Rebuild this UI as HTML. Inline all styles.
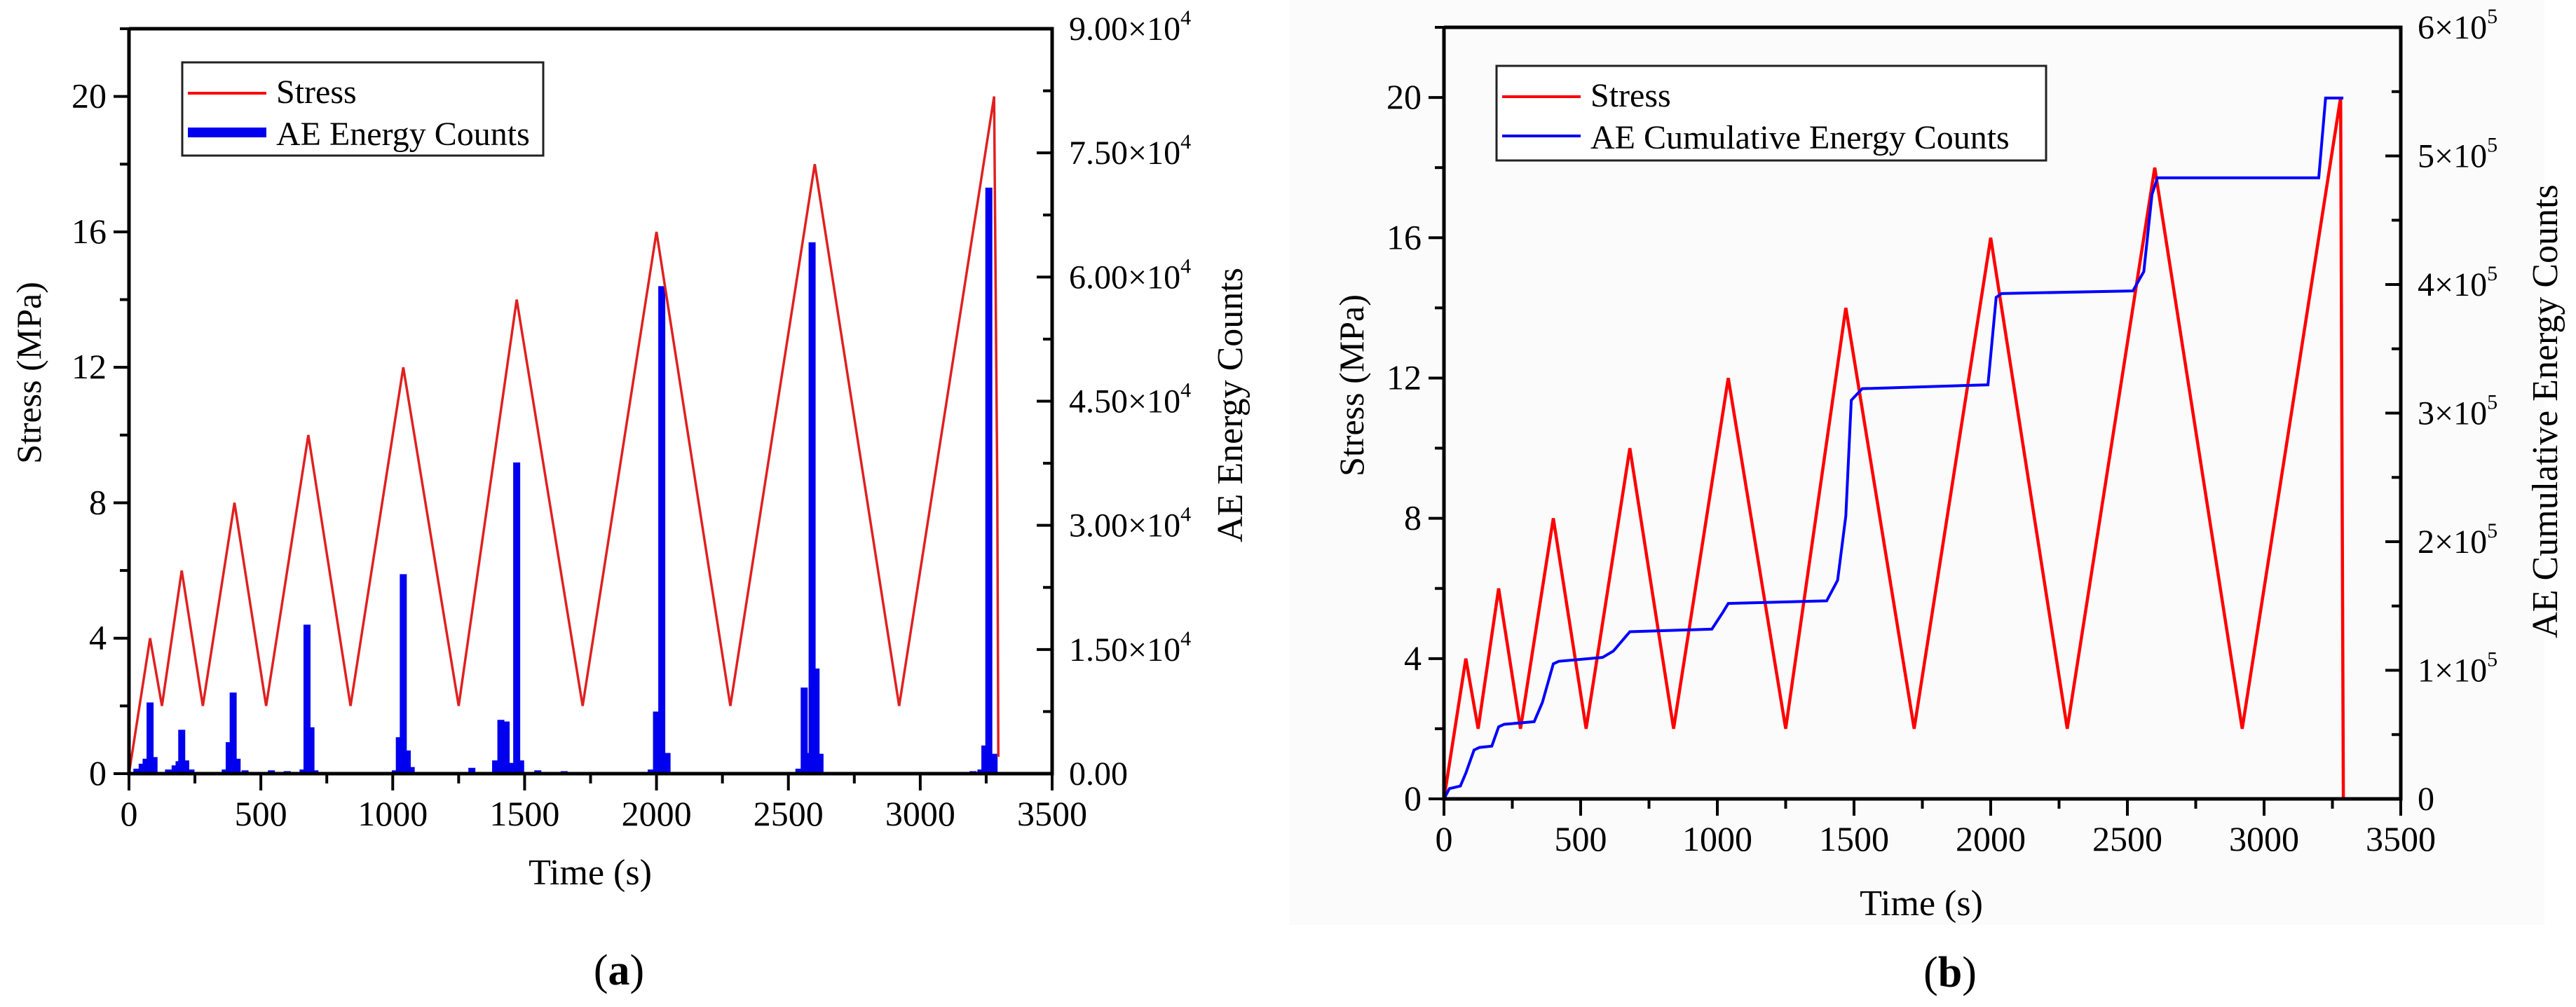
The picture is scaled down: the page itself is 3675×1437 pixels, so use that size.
<!DOCTYPE html>
<html><head><meta charset="utf-8"><style>
html,body{margin:0;padding:0;background:#fff}
svg, svg text, svg tspan{font-family:"Liberation Serif","Times New Roman",serif !important}
</style></head><body>
<svg id="fig" width="3675" height="1432" viewBox="0 0 3675 1432" xmlns="http://www.w3.org/2000/svg" font-family="Liberation Serif, serif">
<rect x="0" y="0" width="3675" height="1432" fill="#fff"/>
<rect x="1840" y="0" width="1790" height="1320" fill="#fbfbfb"/>
<g id="pa"></g>
<g id="pb"></g>
<text x="883" y="1405" font-size="62" font-family="Liberation Serif, serif" text-anchor="middle">(<tspan font-weight="bold">a</tspan>)</text>
<text x="2782" y="1408" font-size="62" font-family="Liberation Serif, serif" text-anchor="middle">(<tspan font-weight="bold">b</tspan>)</text>
</svg>
<script>
// ---- data ----
const stressTimes = [0, 80, 125, 200, 280, 400, 520, 680, 840, 1040, 1250, 1470, 1720, 2000, 2280, 2600, 2920, 3280];
const stressValues = [0, 4, 2, 6, 2, 8, 2, 10, 2, 12, 2, 14, 2, 16, 2, 18, 2, 20];
const stressEndA = [[3292, 8.5], [3296, 0.5]];
const stressEndB = [[3290, 0], [3292, 0]];
const aeTimes = [30, 50, 65, 80, 95, 150, 175, 190, 200, 215, 235, 365, 380, 395, 410, 440, 540, 600, 660, 675, 690, 705, 1010, 1025, 1040, 1055, 1070, 1300, 1390, 1410, 1430, 1450, 1470, 1485, 1550, 1650, 1980, 2000, 2020, 2040, 2540, 2560, 2575, 2590, 2605, 2620, 3200, 3230, 3245, 3260, 3280];
const aeValues = [600, 1200, 1800, 8600, 2000, 500, 1000, 1500, 5300, 1600, 500, 500, 3800, 9800, 1800, 400, 400, 300, 500, 18000, 5600, 400, 400, 4400, 24100, 2800, 800, 700, 1600, 6500, 6300, 1300, 37600, 1600, 400, 300, 500, 7500, 58900, 2500, 600, 10400, 2500, 64200, 12700, 2400, 300, 500, 3400, 70800, 2400];
const cumTimes = [0, 20, 60, 80, 110, 130, 175, 200, 220, 330, 360, 400, 420, 580, 620, 680, 980, 1020, 1040, 1400, 1440, 1470, 1490, 1530, 1990, 2020, 2040, 2520, 2560, 2590, 2610, 3200, 3225, 3290];
const cumValues = [0, 0.08, 0.1, 0.2, 0.38, 0.4, 0.41, 0.56, 0.58, 0.6, 0.75, 1.05, 1.07, 1.1, 1.15, 1.3, 1.32, 1.45, 1.52, 1.54, 1.7, 2.2, 3.1, 3.19, 3.22, 3.9, 3.93, 3.95, 4.1, 4.7, 4.83, 4.83, 5.45, 5.45];
const xTicks = [0, 500, 1000, 1500, 2000, 2500, 3000, 3500];
const stressTicks = [0, 4, 8, 12, 16, 20];
const aeTicks = [0, 15000, 30000, 45000, 60000, 75000, 90000];
const aeTickLabels = ["0.00", "1.50×10<tspan dy='-22' font-size='30'>4</tspan>", "3.00×10<tspan dy='-22' font-size='30'>4</tspan>", "4.50×10<tspan dy='-22' font-size='30'>4</tspan>", "6.00×10<tspan dy='-22' font-size='30'>4</tspan>", "7.50×10<tspan dy='-22' font-size='30'>4</tspan>", "9.00×10<tspan dy='-22' font-size='30'>4</tspan>"];
const cumTicks = [0, 1, 2, 3, 4, 5, 6];
const cumTickLabels = ["0", "1×10<tspan dy='-22' font-size='30'>5</tspan>", "2×10<tspan dy='-22' font-size='30'>5</tspan>", "3×10<tspan dy='-22' font-size='30'>5</tspan>", "4×10<tspan dy='-22' font-size='30'>5</tspan>", "5×10<tspan dy='-22' font-size='30'>5</tspan>", "6×10<tspan dy='-22' font-size='30'>5</tspan>"];

const NS = "http://www.w3.org/2000/svg";
const FF = "Liberation Serif, serif";
function mk(parent, tag, attrs) {
  const e = document.createElementNS(NS, tag);
  for (const k in attrs) e.setAttribute(k, attrs[k]);
  if (tag === 'text') e.setAttribute('font-family', FF);
  parent.appendChild(e);
  return e;
}

function drawPanel(g, L, R, T, B, yMax2, opts) {
  const sx = t => L + (t / 3500) * (R - L);
  const sy = v => B - (v / 22) * (B - T);
  const sy2 = v => B - (v / yMax2) * (B - T);
  if (opts.bars) {
    aeTimes.forEach((t, i) => {
      const h = B - sy2(aeValues[i]);
      const r = mk(g, 'rect', {x: sx(t) - 5, y: sy2(aeValues[i]), width: 10, height: h, fill: '#0000ee'});
      
      
    });
  }
  let pts = stressTimes.map((t, i) => sx(t) + ',' + sy(stressValues[i]));
  (opts.bars ? stressEndA : stressEndB).forEach(p => pts.push(sx(p[0]) + ',' + sy(p[1])));
  const sl = mk(g, 'polyline', {points: pts.join(' '), fill: 'none', stroke: opts.bars ? '#e02020' : '#ff0000', 'stroke-width': opts.bars ? 3.5 : 4.5});
  
  
  if (!opts.bars) {
    const cp = cumTimes.map((t, i) => sx(t) + ',' + sy2(cumValues[i])).join(' ');
    const cl = mk(g, 'polyline', {points: cp, fill: 'none', stroke: '#0000ff', 'stroke-width': 4});
    
    
  }
  const ax = mk(g, 'path', {d: `M${L},${T} L${L},${B} L${R},${B} L${R},${T} L${L},${T}`, fill: 'none', stroke: '#000', 'stroke-width': 5});
  
  
  for (let t = 0; t <= 3500; t += 250) {
    const major = t % 500 === 0;
    mk(g, 'line', {x1: sx(t), x2: sx(t), y1: B, y2: B + (major ? 24 : 14), stroke: '#000', 'stroke-width': 4});
  }
  xTicks.forEach(t => {
    const tx = mk(g, 'text', {x: sx(t), y: B + 74, 'font-size': 50, 'text-anchor': 'middle'});
    tx.textContent = t;
    
    
  });
  for (let v = 0; v <= 22; v += 2) {
    const major = v % 4 === 0;
    mk(g, 'line', {x1: L, x2: L - (major ? 22 : 13), y1: sy(v), y2: sy(v), stroke: '#000', 'stroke-width': 4});
  }
  stressTicks.forEach(v => {
    const tx = mk(g, 'text', {x: L - 32, y: sy(v) + 16, 'font-size': 50, 'text-anchor': 'end'});
    tx.textContent = v;
    
    
  });
  const ticks2 = opts.bars ? aeTicks : cumTicks;
  const labels2 = opts.bars ? aeTickLabels : cumTickLabels;
  const step = ticks2[1] - ticks2[0];
  for (let v = 0; v <= yMax2 + 1e-9; v += step / 2) {
    const major = Math.abs((v / step) - Math.round(v / step)) < 1e-6;
    mk(g, 'line', {x1: R, x2: R - (major ? 22 : 13), y1: sy2(v), y2: sy2(v), stroke: '#000', 'stroke-width': 4});
  }
  ticks2.forEach((v, i) => {
    const tx = mk(g, 'text', {x: R + 24, y: sy2(v) + 16, 'font-size': 48});
    tx.innerHTML = labels2[i];
    
    
  });
  const xt = mk(g, 'text', {x: opts.xTitleX, y: opts.xTitleY, 'font-size': 52, 'text-anchor': 'middle'});
  xt.textContent = 'Time (s)';
  
  
  const yt = mk(g, 'text', {x: 0, y: 0, 'font-size': 50, 'text-anchor': 'middle', transform: `translate(${opts.yTitleX},${opts.yTitleY}) rotate(-90)`});
  yt.textContent = 'Stress (MPa)';
  
  
  const rt = mk(g, 'text', {x: 0, y: 0, 'font-size': 52, 'text-anchor': 'middle', transform: `translate(${opts.rTitleX},${opts.rTitleY}) rotate(-90)`});
  rt.textContent = opts.rTitle;
  
  
  const lg = mk(g, 'g', {});
  
  
  const lb = opts.legend;
  mk(lg, 'rect', {x: lb[0], y: lb[1], width: lb[2], height: lb[3], fill: '#fff', stroke: '#222', 'stroke-width': 3});
  mk(lg, 'line', {x1: lb[0] + 8, x2: lb[0] + 120, y1: lb[1] + 44, y2: lb[1] + 44, stroke: '#ff0000', 'stroke-width': 4});
  mk(lg, 'line', {x1: lb[0] + 8, x2: lb[0] + 120, y1: lb[1] + 100, y2: lb[1] + 100, stroke: '#0000ee', 'stroke-width': opts.bars ? 14 : 4});
  const t1 = mk(lg, 'text', {x: lb[0] + 134, y: lb[1] + 58, 'font-size': 48});
  t1.textContent = 'Stress';
  
  
  const t2 = mk(lg, 'text', {x: lb[0] + 134, y: lb[1] + 118, 'font-size': 48});
  t2.textContent = opts.legendLabel;
  
  
}

drawPanel(document.getElementById('pa'), 184, 1501, 41, 1104, 90000, {
  bars: true, xTitleX: 842, xTitleY: 1262, yTitleX: 58, yTitleY: 532,
  rTitleX: 1772, rTitleY: 578, rTitle: 'AE Energy Counts',
  legend: [260, 89, 515, 133], legendLabel: 'AE Energy Counts'
});
drawPanel(document.getElementById('pb'), 2060, 3425, 39, 1140, 6, {
  bars: false, xTitleX: 2741, xTitleY: 1306, yTitleX: 1945, yTitleY: 550,
  rTitleX: 3648, rTitleY: 587, rTitle: 'AE Cumulative Energy Counts',
  legend: [2135, 94, 784, 135], legendLabel: 'AE Cumulative Energy Counts'
});
</script>
</body></html>
